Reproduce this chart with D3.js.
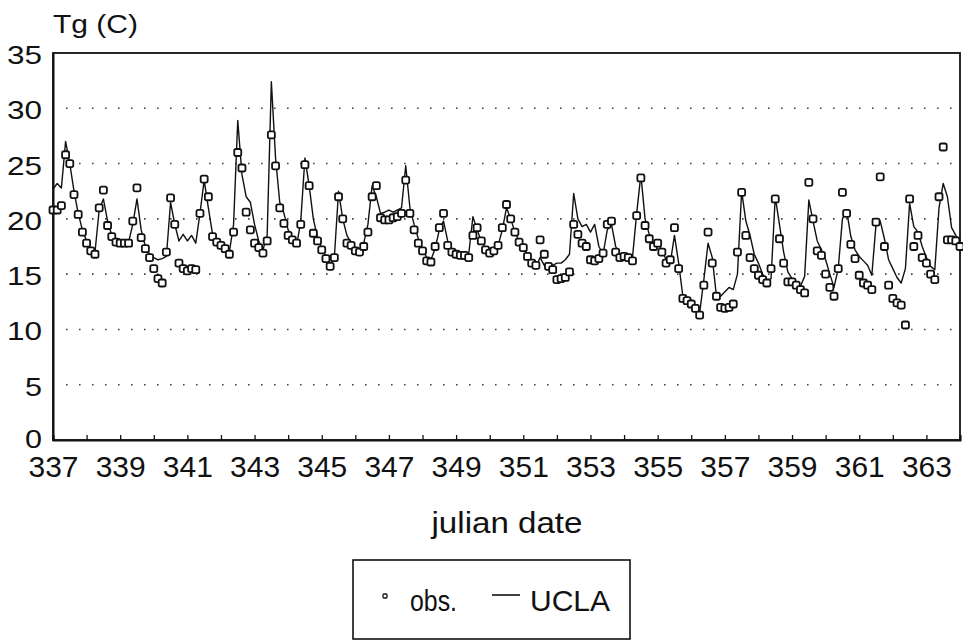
<!DOCTYPE html>
<html>
<head>
<meta charset="utf-8">
<script src="https://cdn.jsdelivr.net/npm/d3@7"></script>
<style>
  body { margin: 0; background: #fff; }
  svg { display: block; font-family: "Liberation Sans", Arial, sans-serif; }
</style>
</head>
<body>
<svg id="chart" width="963" height="642"></svg>
<script>
// 3-hourly samples starting at julian day 337.0
const startDay = 337;
const stepHours = 3;

const obs = [
  20.8, 20.8, 21.2, 25.8, 25.0, 22.2, 20.4, 18.8,
  17.8, 17.1, 16.8, 21.0, 22.6, 19.4, 18.4, 17.9,
  17.8, 17.8, 17.8, 19.8, 22.8, 18.3, 17.3, 16.5,
  15.5, 14.6, 14.2, 17.0, 21.9, 19.5, 16.0, 15.5,
  15.3, 15.5, 15.4, 20.5, 23.6, 22.0, 18.4, 17.9,
  17.6, 17.3, 16.8, 18.8, 26.0, 24.6, 20.6, 19.0,
  17.8, 17.4, 16.9, 18.0, 27.6, 24.8, 21.0, 19.6,
  18.5, 18.1, 17.8, 19.5, 24.9, 23.0, 18.7, 18.0,
  17.2, 16.4, 15.7, 16.5, 22.0, 20.0, 17.8, 17.6,
  17.1, 17.0, 17.5, 18.8, 22.0, 23.0, 20.1, 19.9,
  19.9, 20.1, 20.2, 20.5, 23.5, 20.5, 19.0, 17.8,
  17.1, 16.2, 16.1, 17.5, 19.2, 20.5, 17.6, 17.0,
  16.8, 16.7, 16.7, 16.5, 18.5, 19.2, 18.0, 17.2,
  16.9, 17.1, 17.6, 19.2, 21.3, 20.0, 18.8, 17.9,
  17.4, 16.6, 16.0, 15.8, 18.1, 16.8, 15.7, 15.4,
  14.5, 14.6, 14.7, 15.2, 19.5, 18.6, 17.8, 17.5,
  16.3, 16.2, 16.4, 16.9, 19.5, 19.8, 17.0, 16.5,
  16.6, 16.5, 16.2, 20.3, 23.7, 19.4, 18.2, 17.5,
  17.8, 17.0, 16.0, 16.3, 19.2, 15.5, 12.8, 12.6,
  12.3, 11.9, 11.3, 14.0, 18.8, 16.0, 13.0, 12.0,
  11.9, 12.0, 12.3, 17.0, 22.4, 18.5, 16.5, 15.5,
  14.9, 14.5, 14.2, 15.5, 21.8, 18.2, 16.0, 14.3,
  14.3, 14.0, 13.6, 13.3, 23.3, 20.0, 17.1, 16.7,
  15.0, 13.8, 13.0, 15.5, 22.4, 20.5, 17.7, 16.4,
  14.9, 14.2, 14.0, 13.6, 19.7, 23.8, 17.5, 14.0,
  12.8, 12.4, 12.2, 10.4, 21.8, 17.5, 18.5, 16.5,
  16.0, 15.0, 14.5, 22.0, 26.5, 18.1, 18.1, 18.0,
  17.5
];

const ucla = [
  22.7, 23.2, 22.8, 27.0, 25.0, 22.5, 20.5, 19.0,
  18.0, 17.2, 17.0, 20.8, 21.8, 19.8, 18.5, 18.0,
  17.9, 17.8, 17.9, 19.5, 21.8, 19.0, 17.5, 16.8,
  16.5, 16.3, 16.4, 16.6, 21.5, 19.5, 18.0, 18.6,
  18.0, 18.5, 17.8, 20.5, 23.5, 21.0, 18.6, 18.2,
  17.8, 17.5, 17.0, 19.5, 28.9, 24.0, 22.0, 21.5,
  19.5, 18.0, 17.2, 18.5, 32.4, 25.5, 21.5, 20.5,
  19.0, 18.2, 17.5, 19.8, 25.5, 23.0, 20.0, 18.3,
  17.3, 16.6, 15.9, 16.5, 22.5, 20.0, 18.5, 17.8,
  17.3, 17.0, 17.8, 19.5, 23.0, 22.0, 20.5, 20.6,
  20.8, 20.6, 20.8, 21.0, 24.8, 21.0, 19.5, 18.2,
  17.3, 16.5, 16.3, 17.3, 19.0, 19.8, 18.0, 17.2,
  17.0, 16.9, 16.9, 16.8, 20.2, 19.0, 18.0, 17.3,
  17.0, 17.2, 17.6, 19.0, 21.0, 20.0, 18.8, 18.0,
  17.5, 16.8, 16.2, 15.6, 16.5, 15.8, 15.7, 15.8,
  16.0, 16.0, 16.3, 16.8, 22.3, 20.0, 19.3, 19.5,
  18.8, 19.5, 17.5, 16.8, 19.0, 19.5, 17.5, 16.8,
  16.6, 16.5, 16.5, 20.5, 24.0, 20.0, 18.6, 17.8,
  17.8, 17.2, 16.3, 16.0, 18.5, 16.0, 13.0, 12.8,
  12.4, 12.0, 11.5, 14.5, 17.8, 16.5, 13.0, 13.0,
  13.4, 13.8, 13.6, 15.0, 22.5, 19.8, 18.5, 16.8,
  16.0, 15.0, 14.4, 14.6, 22.0, 19.5, 17.0, 15.2,
  14.6, 14.2, 13.9, 14.8, 21.7, 19.8, 18.0, 17.2,
  16.3, 15.0, 13.8, 15.5, 20.0, 20.8, 18.4, 17.2,
  16.6, 16.2, 15.8, 14.9, 19.5, 19.8, 18.2, 16.3,
  15.5, 14.7, 14.2, 15.5, 21.4, 19.3, 18.8, 17.5,
  16.5, 15.7, 15.4, 21.0, 23.2, 22.0, 19.2, 18.5,
  18.1
];

const xDays = d3.range(337, 365);             // minor tick every day
const xTickLabels = [337, 339, 341, 343, 345, 347, 349, 351, 353, 355, 357, 359, 361, 363];
const yTickLabels = [0, 5, 10, 15, 20, 25, 30, 35];
const gridValues = [5, 10, 15, 20, 25, 30];

const svg = d3.select("#chart");
const margin = { top: 53, right: 3, bottom: 202, left: 53 };
const width = 963 - margin.left - margin.right;
const height = 642 - margin.top - margin.bottom;

const x = d3.scaleLinear().domain([337, 364]).range([0, width]);
const y = d3.scaleLinear().domain([0, 35]).range([height, 0]);

const g = svg.append("g").attr("transform", `translate(${margin.left},${margin.top})`);

// dotted horizontal grid
g.selectAll(".grid")
  .data(gridValues)
  .enter().append("line")
  .attr("class", "grid")
  .attr("x1", 13).attr("x2", width)
  .attr("y1", d => y(d)).attr("y2", d => y(d))
  .attr("stroke", "#444")
  .attr("stroke-width", 1.6)
  .attr("stroke-dasharray", "1.6,11.4");

// frame
g.append("rect")
  .attr("x", 0).attr("y", 0)
  .attr("width", width).attr("height", height)
  .attr("fill", "none")
  .attr("stroke", "#111")
  .attr("stroke-width", 1.8);

// x axis
const xAxis = g.append("g")
  .attr("transform", `translate(0,${height})`)
  .call(d3.axisBottom(x)
    .tickValues(xDays)
    .tickSize(-5)
    .tickPadding(16)
    .tickFormat(d => xTickLabels.includes(d) ? d : ""));
xAxis.select(".domain").attr("stroke", "#111").attr("stroke-width", 2);
xAxis.selectAll(".tick line").attr("stroke", "#111").attr("stroke-width", 1.3);
xAxis.selectAll("text")
  .attr("fill", "#111")
  .style("font-size", "29px")
  .attr("textLength", d => xTickLabels.includes(d) ? 50 : null)
  .attr("lengthAdjust", "spacingAndGlyphs");

// y axis
const yAxis = g.append("g")
  .call(d3.axisLeft(y).tickValues(yTickLabels).tickSize(0).tickPadding(11));
yAxis.select(".domain").attr("stroke", "#111").attr("stroke-width", 2);
yAxis.selectAll("text")
  .attr("fill", "#111")
  .attr("dy", d => d === 0 ? "0.3em" : "0.42em")
  .style("font-size", "25px")
  .attr("textLength", d => d >= 10 ? 35 : 17)
  .attr("lengthAdjust", "spacingAndGlyphs");

// UCLA model line
const t = i => startDay + i * stepHours / 24;
const line = d3.line()
  .x((d, i) => x(t(i)))
  .y(d => y(d));

g.append("path")
  .datum(ucla)
  .attr("fill", "none")
  .attr("stroke", "#111")
  .attr("stroke-width", 1.4)
  .attr("stroke-linejoin", "round")
  .attr("d", line);

// observations: small open squares
const ms = 7;
g.selectAll(".obs")
  .data(obs)
  .enter().append("rect")
  .attr("class", "obs")
  .attr("x", (d, i) => x(t(i)) - ms / 2)
  .attr("y", d => y(d) - ms / 2)
  .attr("width", ms).attr("height", ms)
  .attr("rx", 1.8)
  .attr("fill", "#fff")
  .attr("stroke", "#111")
  .attr("stroke-width", 1.8);

// axis titles
svg.append("text")
  .attr("x", 53).attr("y", 33)
  .attr("textLength", 85).attr("lengthAdjust", "spacingAndGlyphs")
  .style("font-size", "25px")
  .attr("fill", "#111")
  .text("Tg (C)");

svg.append("text")
  .attr("x", 507).attr("y", 533)
  .attr("text-anchor", "middle")
  .attr("textLength", 151).attr("lengthAdjust", "spacingAndGlyphs")
  .style("font-size", "30px")
  .attr("fill", "#111")
  .text("julian date");

// legend
const lg = svg.append("g").attr("transform", "translate(353,560)");
lg.append("rect")
  .attr("width", 277).attr("height", 79)
  .attr("fill", "#fff")
  .attr("stroke", "#111")
  .attr("stroke-width", 1.6);
lg.append("rect")
  .attr("x", 30).attr("y", 34)
  .attr("width", 4).attr("height", 4)
  .attr("rx", 1)
  .attr("fill", "#fff")
  .attr("stroke", "#111")
  .attr("stroke-width", 1.3);
lg.append("text")
  .attr("x", 57).attr("y", 51)
  .attr("textLength", 47).attr("lengthAdjust", "spacingAndGlyphs")
  .style("font-size", "30px")
  .attr("fill", "#111")
  .text("obs.");
lg.append("line")
  .attr("x1", 139).attr("x2", 167)
  .attr("y1", 35).attr("y2", 35)
  .attr("stroke", "#111")
  .attr("stroke-width", 1.6);
lg.append("text")
  .attr("x", 177).attr("y", 51)
  .attr("textLength", 80).attr("lengthAdjust", "spacingAndGlyphs")
  .style("font-size", "30px")
  .attr("fill", "#111")
  .text("UCLA");
</script>
</body>
</html>
